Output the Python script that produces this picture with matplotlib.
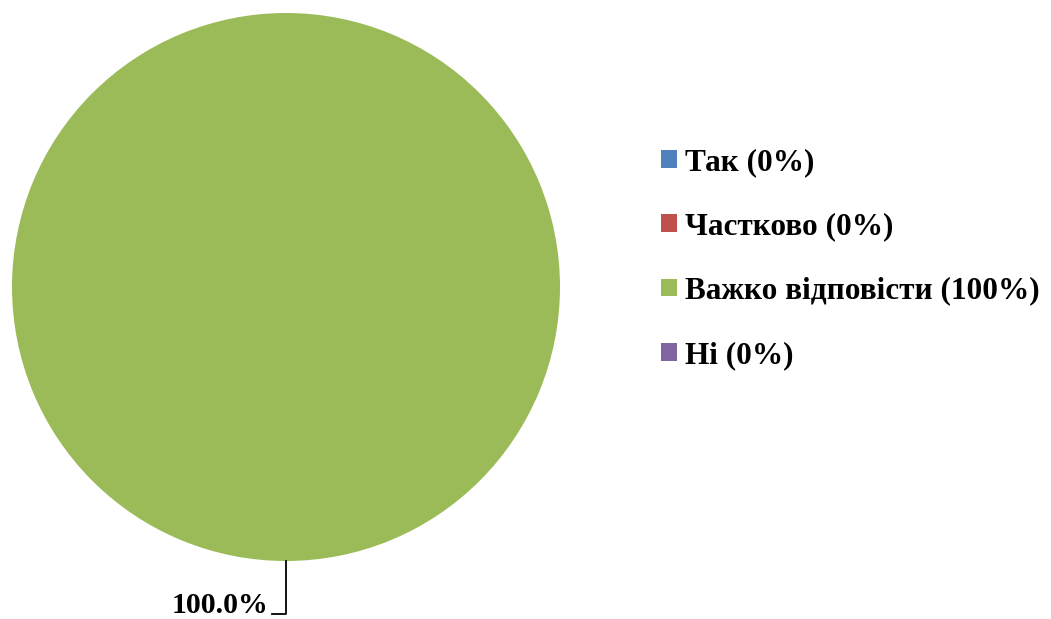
import matplotlib
matplotlib.use("Agg")
import matplotlib.pyplot as plt
import numpy as np
from matplotlib.patches import Patch

categories = ["Так", "Частково", "Важко відповісти", "Ні"]
values = [0, 0, 100, 0]
colors = ["#4F81BD", "#C0504D", "#9BBB59", "#8064A2"]

plt.rcParams['font.family'] = ['Liberation Serif', 'DejaVu Serif']

fig = plt.figure(figsize=(10.51, 6.19), dpi=100)
ax = fig.add_axes([12/1051, (619-561)/619, 548/1051, 548/619])
wedges, _ = ax.pie(values, colors=colors, startangle=90, counterclock=False,
                   wedgeprops=dict(linewidth=0, edgecolor='none'))
ax.set_xlim(-1, 1)
ax.set_ylim(-1, 1)
ax.set_aspect('equal')
ax.axis('off')

total = sum(values)
for w, v in zip(wedges, values):
    if v == 0:
        continue
    ang = np.deg2rad((w.theta1 + w.theta2) / 2)
    x0, y0 = np.cos(ang), np.sin(ang)
    ax.plot([x0, x0, x0 - 0.051], [y0, y0 - 0.193, y0 - 0.193], color='black',
            lw=1.3, clip_on=False)
    ax.text(x0 - 0.066, y0 - 0.163, f"{v / total * 100:.1f}%", ha='right', va='center',
            fontsize=21.5, fontweight='bold', clip_on=False)

handles = [Patch(facecolor=c, edgecolor='none') for c in colors]
labels = [f"{c} ({round(v / total * 100)}%)" for c, v in zip(categories, values)]
fig.legend(handles, labels, loc='center left', bbox_to_anchor=(661/1051, 1 - 259/619),
           frameon=False, prop=dict(size=22.5, weight='bold'),
           handlelength=0.5, handleheight=0.5, handletextpad=0.26, labelspacing=1.13,
           borderaxespad=0, borderpad=0)

fig.savefig("out.png", dpi=100)
